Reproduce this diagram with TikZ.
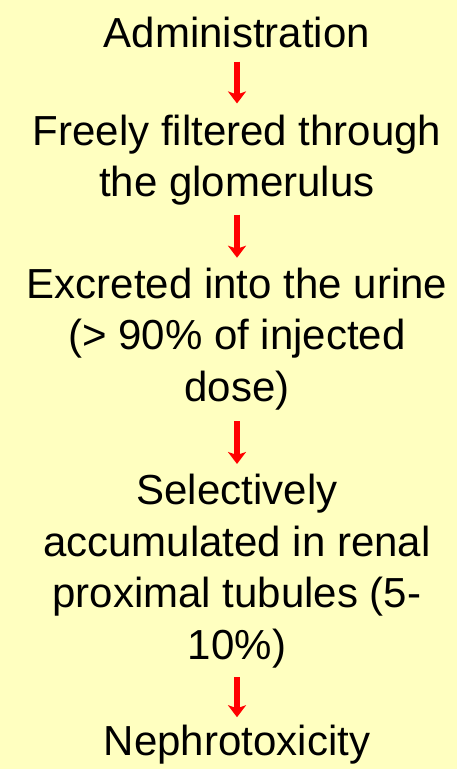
\documentclass[tikz,border=0pt]{standalone}
\usepackage{fontspec}
\setmainfont{Liberation Sans}
\usetikzlibrary{arrows.meta}
\usetikzlibrary{positioning}
\definecolor{paleyellow}{RGB}{255,255,192}

\begin{document}
\begin{tikzpicture}[x=1pt, y=1pt, every node/.style={inner sep=0pt, align=center, font=\fontsize{42}{51.5}\selectfont},
  arr/.style={draw=red, line width=5.5pt, -{Stealth[length=12pt, width=18pt, inset=3pt]}}]
        % Background of the slide
        \fill[paleyellow] (0,0) rectangle (457,-769);
        \useasboundingbox (0,0) rectangle (457,-769);

        % Steps of the pathway
        \node (admin) at (237,-32) {Administration};
        \node (filter) at (237,-160) {Freely filtered through\\the glomerulus};
        \node (urine) at (237,-339) {Excreted into the urine\\(> 90\% of injected\\dose)};
        \node (tubule) at (237,-571) {Selectively\\accumulated in renal\\proximal tubules (5-\\10\%)};
        \node (nephro) at (237,-745) {Nephrotoxicity};

        % Red arrows between the steps
        \draw[arr, shorten <=14pt, shorten >=11pt] (admin) -- (filter);
        \draw[arr, shorten <=9pt, shorten >=10pt] (filter) -- (urine);
        \draw[arr, shorten <=11pt, shorten >=10pt] (urine) -- (tubule);
        \draw[arr, shorten <=9pt, shorten >=8pt] (tubule) -- (nephro);
      \end{tikzpicture}
\end{document}
